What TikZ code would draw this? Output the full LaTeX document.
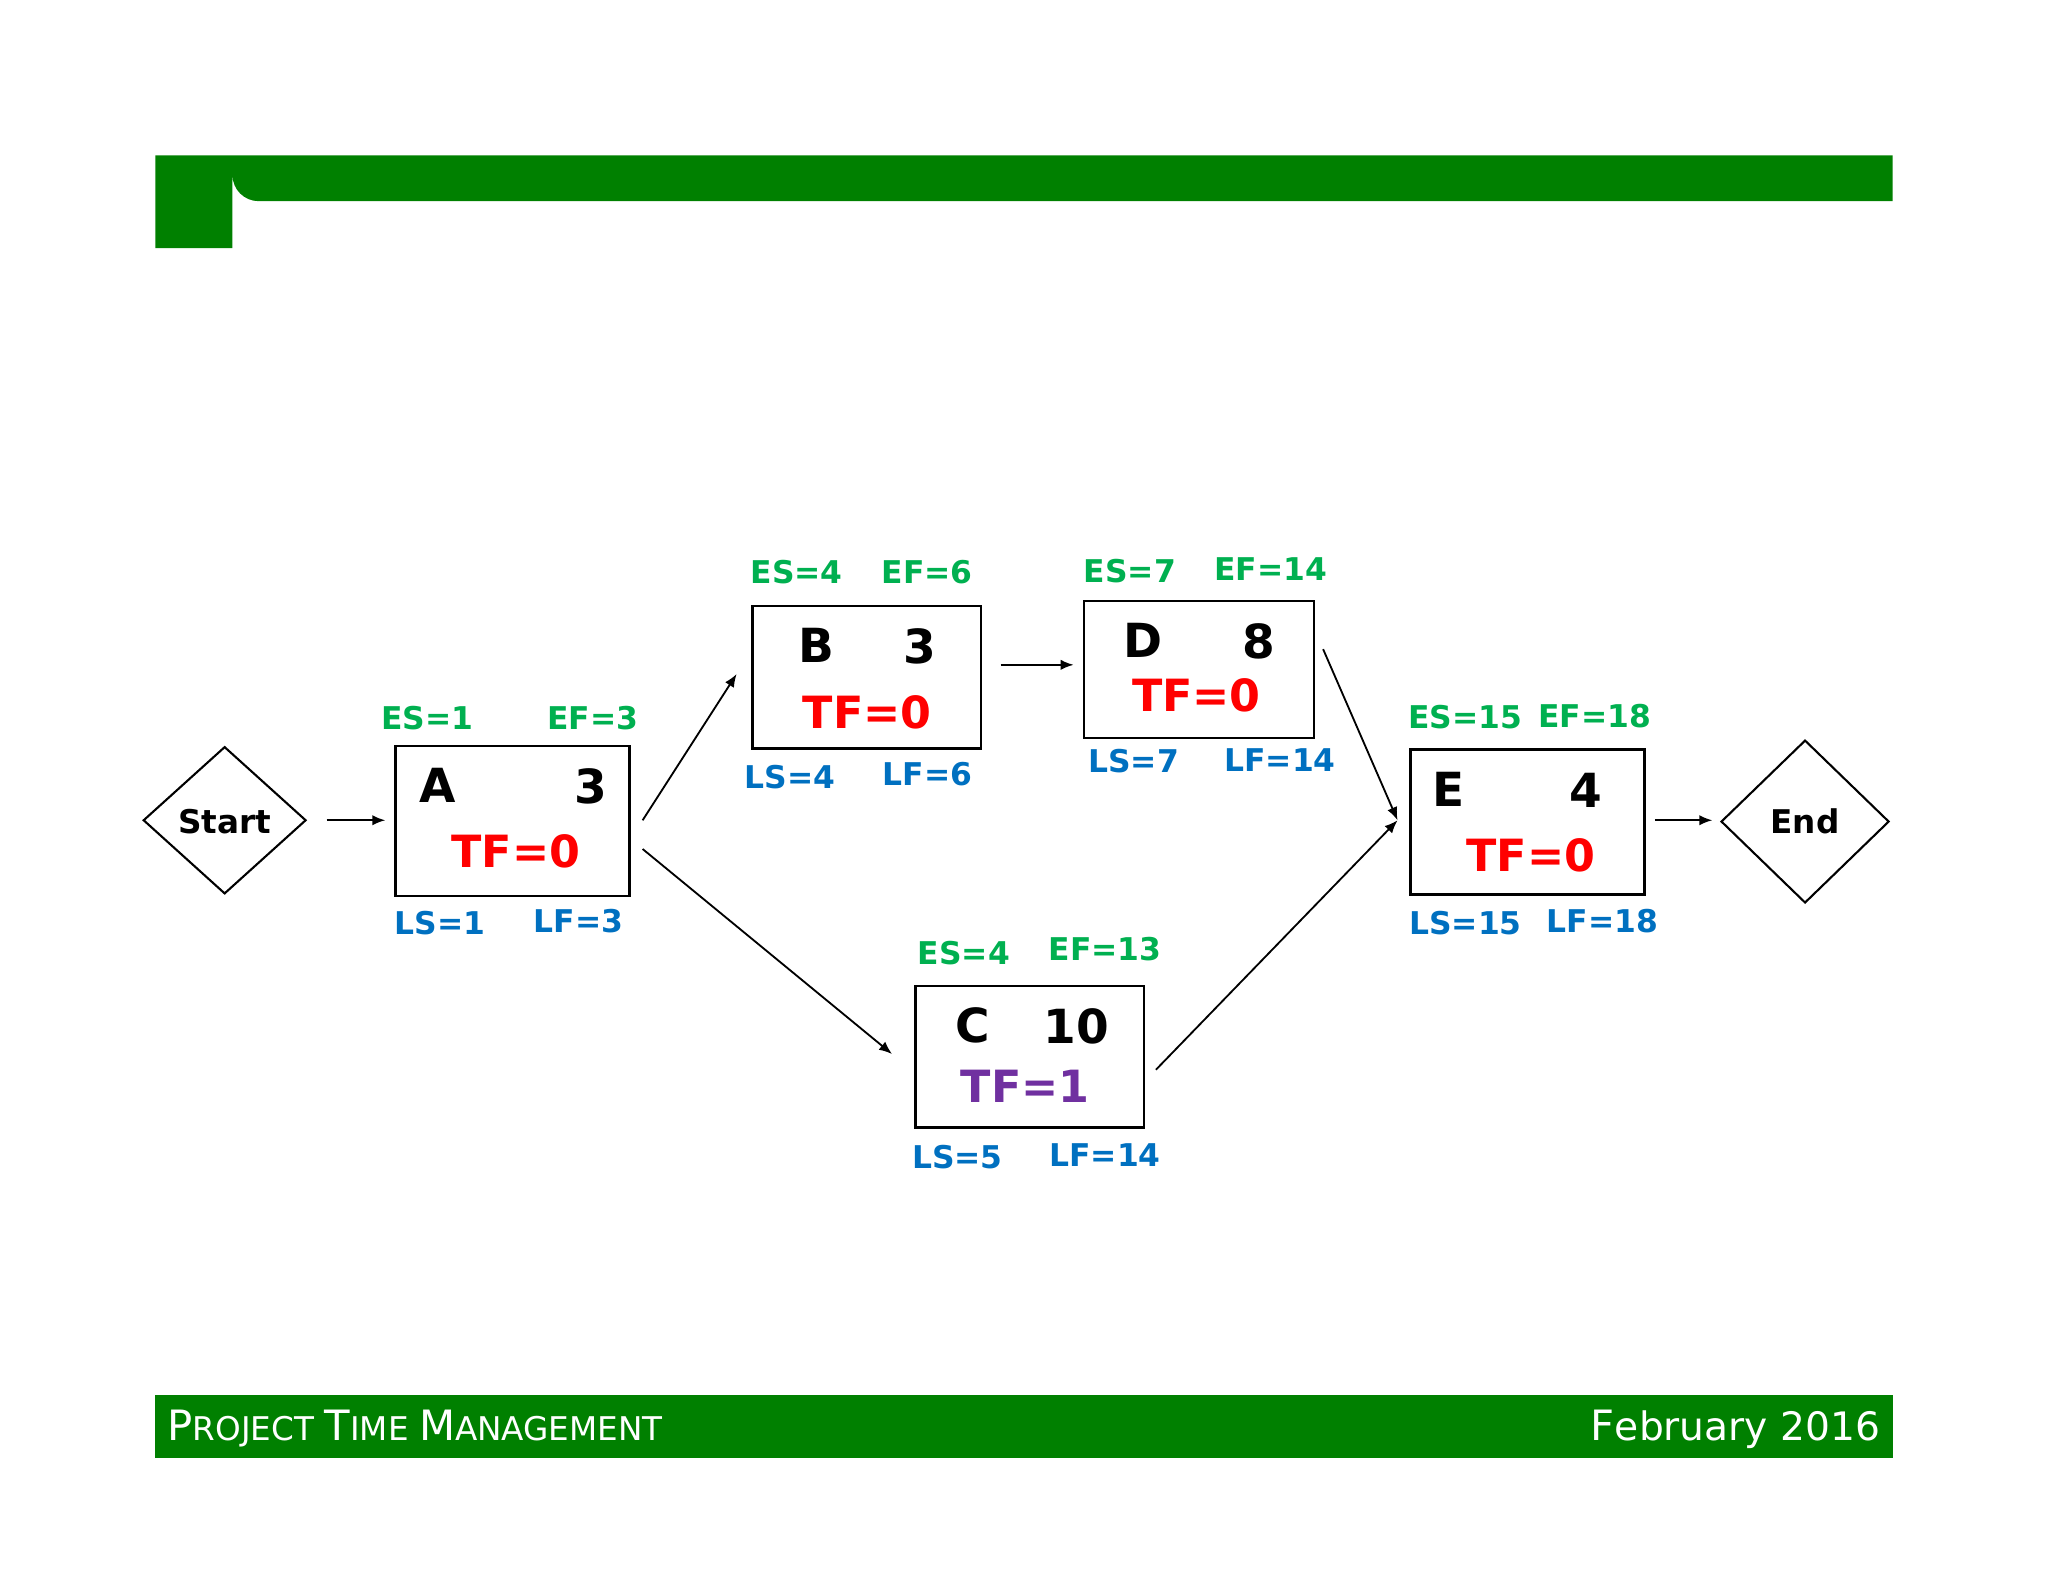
\documentclass[tikz,border=0pt]{standalone}
\usepackage{fontspec}
\setmainfont{DejaVu Sans}
\usetikzlibrary{arrows.meta}
\definecolor{bar}{RGB}{0,128,0}
\definecolor{esg}{RGB}{0,176,80}
\definecolor{lsb}{RGB}{0,112,192}
\definecolor{tfr}{RGB}{255,0,0}
\definecolor{tfp}{RGB}{112,48,160}
\begin{document}
\begin{tikzpicture}[x=0.5pt,y=-0.5pt,
  box/.style={draw,line width=1pt},
  dia/.style={draw,line width=0.8pt},
  es/.style={text=esg,font=\fontsize{12}{14}\selectfont\bfseries},
  ls/.style={text=lsb,font=\fontsize{12}{14}\selectfont\bfseries},
  big/.style={font=\fontsize{18}{20}\selectfont\bfseries},
  tf/.style={text=tfr,font=\fontsize{17}{20}\selectfont\bfseries},
  con/.style={line width=0.7pt,-{Latex[length=5pt,width=4pt]}}]
\useasboundingbox (0,0) rectangle (1568,1211);
% header / footer
\fill[bar] (119,119) -- (1449,119) -- (1449,154) -- (198,154) arc[start angle=90,end angle=180,radius=20] -- (178,190) -- (119,190) -- cycle;
\fill[bar] (119,1068) rectangle (1449,1116);
\node[anchor=west,text=white,inner sep=0] (ft) at (128,1094) {\fontsize{16}{18}\selectfont P\fontsize{12.5}{14}\selectfont ROJECT \fontsize{16}{18}\selectfont T\fontsize{12.5}{14}\selectfont IME \fontsize{16}{18}\selectfont M\fontsize{12.5}{14}\selectfont ANAGEMENT};
\node[anchor=east,text=white,inner sep=0] (fd) at (1440,1094) {\fontsize{16}{18}\selectfont F\fontsize{15}{18}\selectfont ebruary 2016};
% diamonds
\draw[dia] (110,628) -- (172,572) -- (234,628) -- (172,684) -- cycle;
\node[font=\fontsize{12.5}{14}\selectfont\bfseries] (start) at (172,629) {Start};
\draw[dia] (1318,629) -- (1382,567) -- (1446,629) -- (1382,691) -- cycle;
\node[font=\fontsize{12.5}{14}\selectfont\bfseries] (end) at (1382,629) {End};
% boxes
\draw[box] (303,571) rectangle (482,686);
\draw[box] (576,464) rectangle (751,573);
\draw[box] (830,460) rectangle (1006,565);
\draw[box] (701,755) rectangle (876,863);
\draw[box] (1080,574) rectangle (1259,685);
% box contents
\node[big] (a1) at (335,601) {A}; \node[big] (a2) at (452,602) {3}; \node[tf] (a3) at (395,652) {TF=0};
\node[big] (b1) at (625,494) {B}; \node[big] (b2) at (704,495) {3}; \node[tf] (b3) at (664,545) {TF=0};
\node[big] (d1) at (875,490) {D}; \node[big] (d2) at (964,491) {8}; \node[tf] (d3) at (916,532) {TF=0};
\node[big] (c1) at (745,785) {C}; \node[big] (c2) at (824,786) {10}; \node[tf,text=tfp] (c3) at (785,832) {TF=1};
\node[big] (e1) at (1109,604) {E}; \node[big] (e2) at (1214,605) {4}; \node[tf] (e3) at (1172,655) {TF=0};
% labels
\node[es] (l1) at (327,550) {ES=1}; \node[es] (l2) at (454,550) {EF=3};
\node[ls] (l3) at (337,707) {LS=1}; \node[ls] (l4) at (443,705) {LF=3};
\node[es] (l5) at (610,438) {ES=4}; \node[es] (l6) at (710,438) {EF=6};
\node[ls] (l7) at (605,595) {LS=4}; \node[ls] (l8) at (710,593) {LF=6};
\node[es] (l9) at (865,437) {ES=7}; \node[es] (l10) at (973,436) {EF=14};
\node[ls] (l11) at (868,583) {LS=7}; \node[ls] (l12) at (980,582) {LF=14};
\node[es] (l13) at (738,730) {ES=4}; \node[es] (l14) at (846,727) {EF=13};
\node[ls] (l15) at (733,886) {LS=5}; \node[ls] (l16) at (846,884) {LF=14};
\node[es] (l17) at (1122,549) {ES=15}; \node[es] (l18) at (1221,548) {EF=18};
\node[ls] (l19) at (1122,707) {LS=15}; \node[ls] (l20) at (1227,705) {LF=18};
% connectors
\coordinate (s0) at (250,628); \coordinate (s1) at (295,628);
\coordinate (ab0) at (492,628); \coordinate (ab1) at (564,516);
\coordinate (ac0) at (492,650); \coordinate (ac1) at (683,807);
\coordinate (bd0) at (766,509); \coordinate (bd1) at (822,509);
\coordinate (de0) at (1013,497); \coordinate (de1) at (1070,628);
\coordinate (ce0) at (885,819); \coordinate (ce1) at (1070,628);
\coordinate (en0) at (1267,628); \coordinate (en1) at (1311,628);
\draw[con] (s0) -- (s1);
\draw[con] (ab0) -- (ab1);
\draw[con] (ac0) -- (ac1);
\draw[con] (bd0) -- (bd1);
\draw[con] (de0) -- (de1);
\draw[con] (ce0) -- (ce1);
\draw[con] (en0) -- (en1);
\end{tikzpicture}
\end{document}
